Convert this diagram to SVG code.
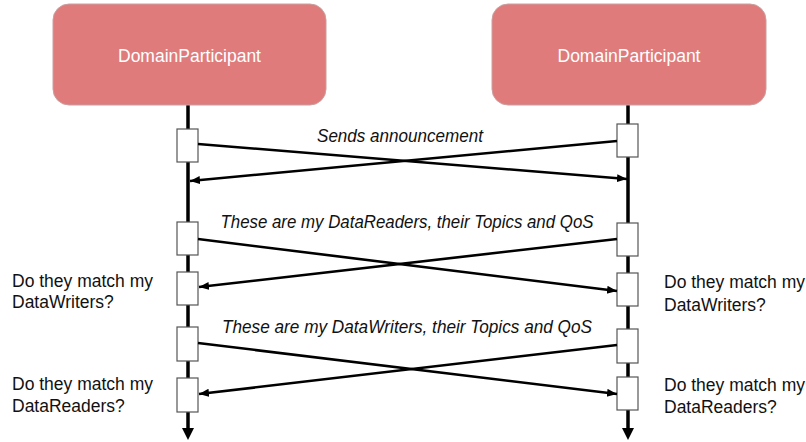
<svg xmlns="http://www.w3.org/2000/svg" width="806" height="442" viewBox="0 0 806 442">
<style>
.box{fill:#E07B7C;stroke:#C9A0A0;stroke-width:1}
.title{font-family:"Liberation Sans",Arial,sans-serif;font-size:17.5px;fill:#FFFFFF;text-anchor:middle}
.life{stroke:#000;stroke-width:3.5;fill:none}
.act{fill:#FFF;stroke:#555;stroke-width:1.2}
.msg{stroke:#000;stroke-width:2.6;fill:none;marker-end:url(#ah)}
.lbl{font-family:"Liberation Sans",Arial,sans-serif;font-size:17.5px;fill:#111}
.it{font-family:"Liberation Sans",Arial,sans-serif;font-size:17.5px;font-style:italic;fill:#111;text-anchor:middle}
</style>
<defs>
<marker id="ah" markerUnits="userSpaceOnUse" markerWidth="12" markerHeight="10" refX="10" refY="4" orient="auto">
<path d="M0,0 L10,4 L0,8 Z" fill="#000"/>
</marker>
</defs>
<g id="lifelines">
<line class="life" x1="188" y1="105" x2="188" y2="429"/>
<path d="M182,428 L194,428 L188,440 Z" fill="#000"/>
<line class="life" x1="628" y1="105" x2="628" y2="429"/>
<path d="M622,428 L634,428 L628,440 Z" fill="#000"/>
</g>
<g id="participant-left">
<rect class="box" x="53" y="4" width="273" height="101" rx="16"/>
<text class="title" x="189.5" y="62">DomainParticipant</text>
</g>
<g id="participant-right">
<rect class="box" x="492" y="4" width="274" height="101" rx="16"/>
<text class="title" x="629" y="62">DomainParticipant</text>
</g>
<g id="activations-left">
<rect class="act" x="177" y="129" width="21" height="33"/>
<rect class="act" x="177" y="222" width="21" height="33"/>
<rect class="act" x="177" y="272" width="21" height="33"/>
<rect class="act" x="177" y="327" width="21" height="34"/>
<rect class="act" x="177" y="378" width="21" height="34"/>
</g>
<g id="activations-right">
<rect class="act" x="617" y="124" width="21" height="33"/>
<rect class="act" x="617" y="223" width="21" height="33"/>
<rect class="act" x="617" y="273" width="21" height="33"/>
<rect class="act" x="617" y="329" width="21" height="34"/>
<rect class="act" x="617" y="377" width="21" height="33"/>
</g>
<g id="connectors">
<line class="msg" x1="198" y1="144" x2="627" y2="179"/>
<line class="msg" x1="617" y1="141" x2="190" y2="181"/>
<line class="msg" x1="198" y1="239" x2="617" y2="291"/>
<line class="msg" x1="617" y1="239" x2="199" y2="287"/>
<line class="msg" x1="198" y1="343" x2="617" y2="394"/>
<line class="msg" x1="617" y1="345" x2="199" y2="394"/>
</g>
<g id="labels">
<text class="it" x="400" y="142" textLength="166" lengthAdjust="spacingAndGlyphs">Sends announcement</text>
<text class="it" x="407" y="228" textLength="373" lengthAdjust="spacingAndGlyphs">These are my DataReaders, their Topics and QoS</text>
<text class="it" x="407" y="333" textLength="370" lengthAdjust="spacingAndGlyphs">These are my DataWriters, their Topics and QoS</text>
<text class="lbl" x="12" y="287">Do they match my</text>
<text class="lbl" x="12" y="308">DataWriters?</text>
<text class="lbl" x="12" y="390">Do they match my</text>
<text class="lbl" x="12" y="412">DataReaders?</text>
<text class="lbl" x="664" y="288">Do they match my</text>
<text class="lbl" x="664" y="311">DataWriters?</text>
<text class="lbl" x="664" y="391">Do they match my</text>
<text class="lbl" x="664" y="413">DataReaders?</text>
</g>
</svg>
